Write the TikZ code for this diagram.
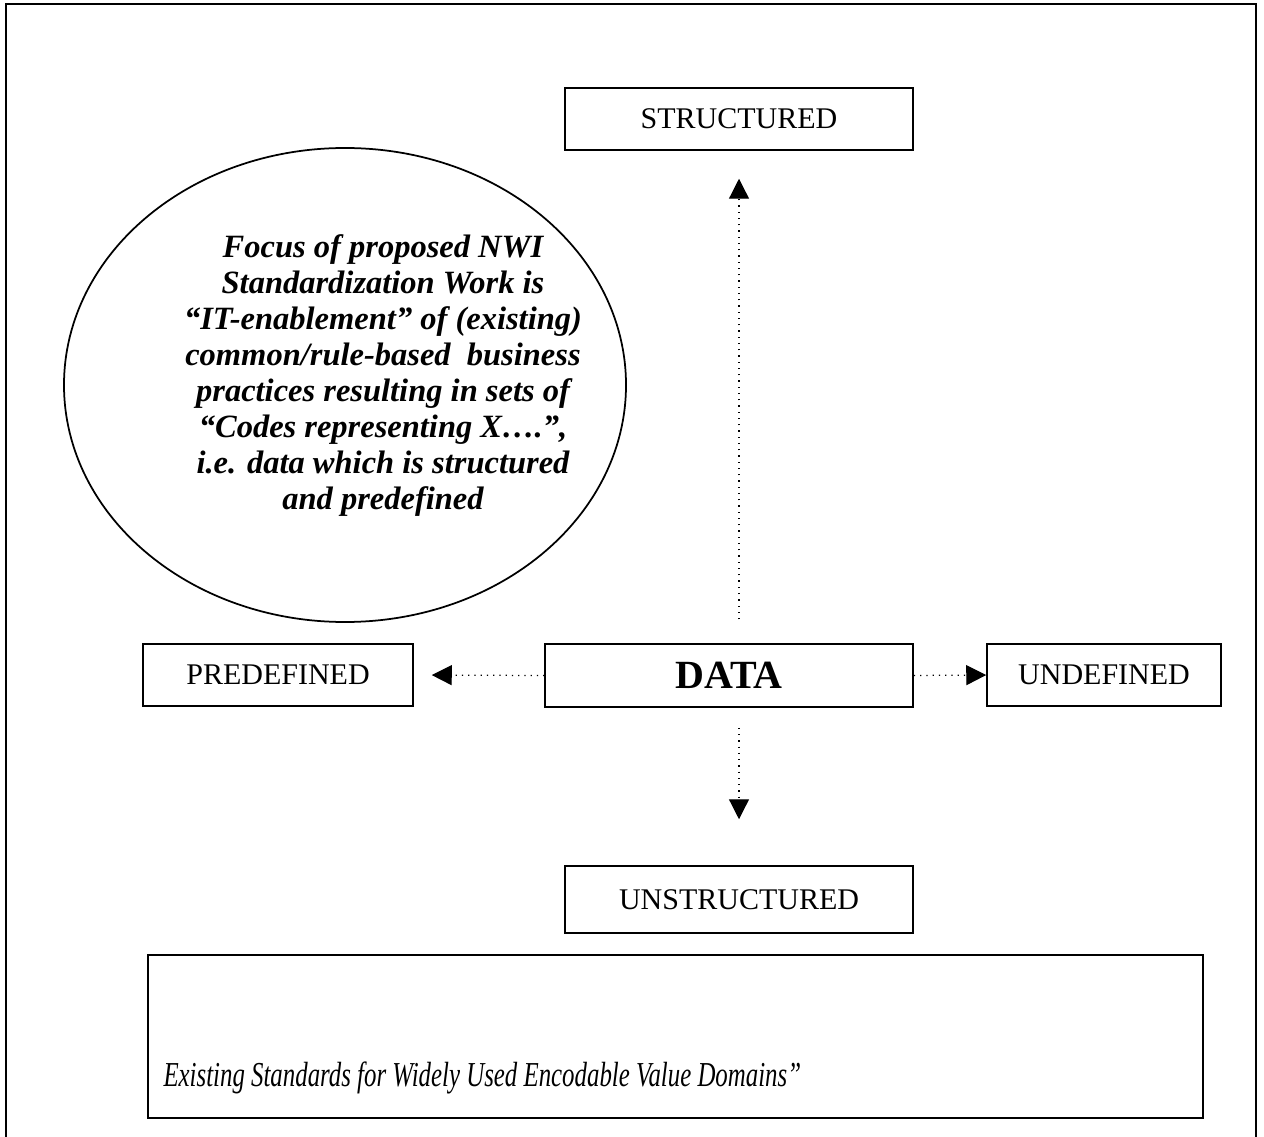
\documentclass[tikz,border=0pt]{standalone}
\usepackage{fontspec}
\setmainfont{Liberation Serif}
\newfontfamily\narrowserif[FakeStretch=0.71]{Liberation Serif}
\usetikzlibrary{shapes.geometric,arrows.meta,positioning}

\begin{document}
\begin{tikzpicture}[x=0.4pt, y=-0.4pt,
    catbox/.style={draw, line width=0.6pt, inner sep=0pt, font=\fontsize{12}{14}\selectfont},
    flow/.style={dotted, line width=0.5pt, -{Triangle[length=8pt,width=8pt]}}]
    \useasboundingbox (0,0) rectangle (1264,1137);
    % frame, open at the bottom
    \draw[line width=0.8pt] (6,1150) -- (6,4) -- (1256,4) -- (1256,1150);
    % categories
    \node[catbox, minimum width=139.2pt, minimum height=24.8pt] (structured) at (739,119) {STRUCTURED};
    \node[catbox, minimum width=108pt, minimum height=24.8pt] (predefined) at (278,675) {PREDEFINED};
    \node[catbox, minimum width=147.2pt, minimum height=25.2pt, font=\fontsize{16}{18}\selectfont\bfseries] (data) at (729,675.5) {DATA};
    \node[catbox, minimum width=93.6pt, minimum height=24.8pt] (undefined) at (1104,675) {UNDEFINED};
    \node[catbox, minimum width=139.2pt, minimum height=26.8pt] (unstructured) at (739,899.5) {UNSTRUCTURED};
    % focus ellipse
    \node[draw, ellipse, line width=0.7pt, inner sep=0pt, minimum width=224.8pt, minimum height=189.6pt] (focus) at (345,385) {};
    \node[align=center, font=\fontsize{13}{14.4}\selectfont\bfseries\itshape] (focustext) at (383,376)
        {Focus of proposed NWI\\
         Standardization Work is\\
         “IT-enablement” of (existing)\\
         common/rule-based\ \ business\\
         practices resulting in sets of\\
         “Codes representing X….”,\\
         i.e. data which is structured\\
         and predefined};
    % arrows
    \draw[flow, shorten <=9.6pt, shorten >=11.2pt] (structured.south |- data.north) -- (structured.south);
    \draw[flow, shorten <=8pt, shorten >=18.4pt] (unstructured.north |- data.south) -- (unstructured.north);
    \draw[flow, shorten >=7.2pt] (data.west) -- (predefined.east);
    \draw[flow] (data.east) -- (undefined.west);
    % standards box
    \node[draw, line width=0.6pt, minimum width=422pt, minimum height=65.2pt, inner sep=0pt] (standards) at (675.5,1036.5) {};
    \node[anchor=base west, inner sep=0pt, font=\narrowserif\fontsize{14}{16}\selectfont\itshape] (standardstext) at (163,1086)
        {Existing Standards for Widely Used Encodable Value Domains”};
\end{tikzpicture}
\end{document}
